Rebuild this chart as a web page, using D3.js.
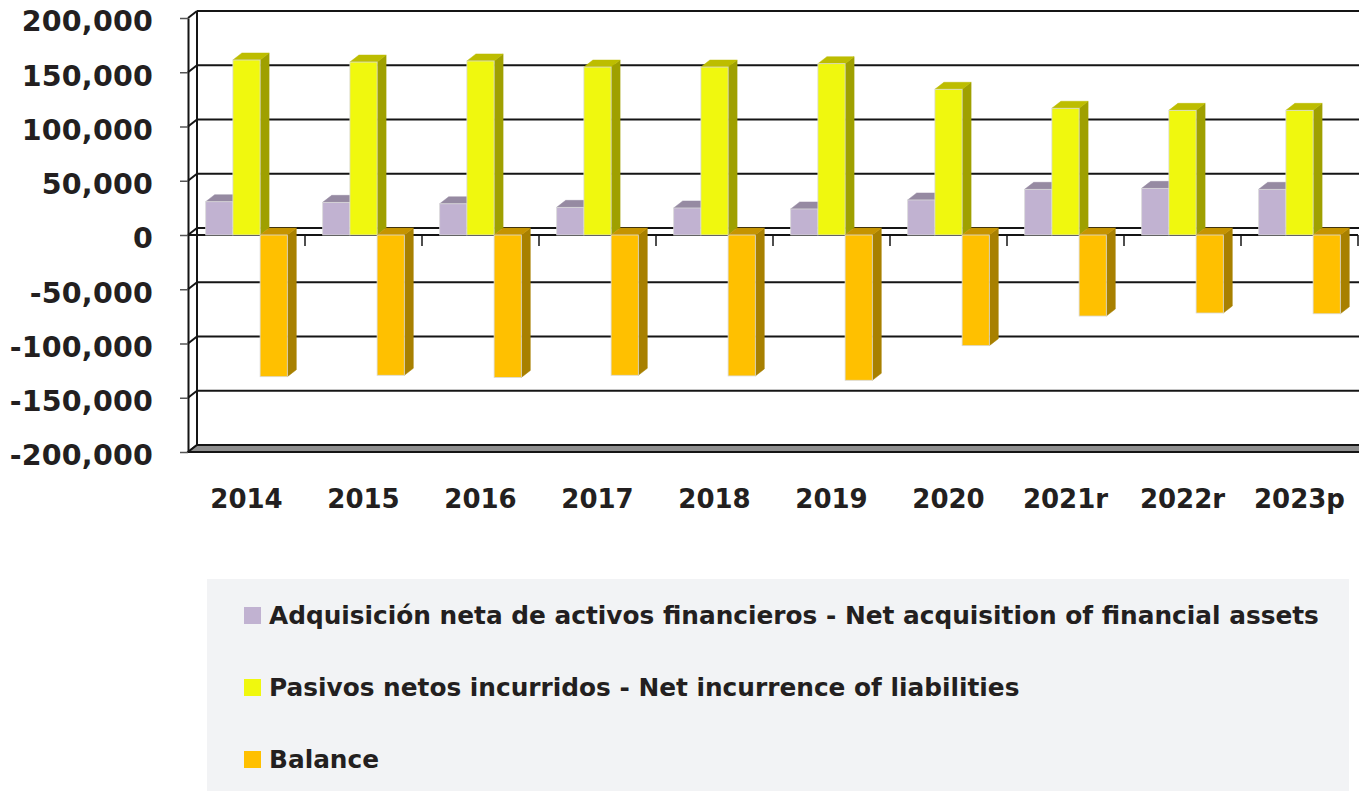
<!DOCTYPE html>
<html><head><meta charset="utf-8">
<script src="https://cdn.jsdelivr.net/npm/d3@7"></script>
<style>
html,body{margin:0;padding:0;background:#fff;}
svg{display:block;}
text{font-family:"DejaVu Sans",sans-serif;font-weight:bold;fill:#231f20;}
</style></head>
<body>
<svg id="chart" width="1359" height="791"></svg>
<script>
const categories = ["2014","2015","2016","2017","2018","2019","2020","2021r","2022r","2023p"];
const seriesNames = [
  "Adquisición neta de activos financieros - Net acquisition of financial assets",
  "Pasivos netos incurridos - Net incurrence of liabilities",
  "Balance"
];
const assets      = [30700, 30100, 28800, 25500, 24900, 24000, 32300, 42100, 43000, 42100];
const liabilities = [161300, 159400, 160400, 154800, 154800, 157900, 134300, 116800, 114900, 114900];
const balance     = [-130600, -129300, -131300, -129300, -129900, -133900, -102000, -74700, -71900, -72600];
const yTicks = [-200000, -150000, -100000, -50000, 0, 50000, 100000, 150000, 200000];

const seriesValues = [assets, liabilities, balance];
const colors = [
  {front:"#c1b2d1", top:"#968aa2", side:"#85788f"},
  {front:"#f0f80e", top:"#bdbd00", side:"#9fa000"},
  {front:"#ffc000", top:"#c69400", side:"#a88000"}
];

const svg = d3.select("#chart");
const left = 188, right = 1358, dx = 9, dy = 7;
const x = d3.scaleBand().domain(categories).range([left, right]).paddingInner(0).paddingOuter(0);
const xs = d3.scaleBand().domain(d3.range(3)).range([0, x.bandwidth()]).paddingInner(0).paddingOuter(0.65);
const y = d3.scaleLinear().domain([-200000, 200000]).range([452, 18]);
const lineCol = "#151515";
const fmt = d3.formatLocale({decimal: ".", thousands: ",", grouping: [3], currency: ["", ""], minus: "-"}).format(",");

// back wall gridlines
svg.append("g").selectAll("line").data(yTicks).join("line")
  .attr("x1", left + dx).attr("x2", 1400)
  .attr("y1", d => y(d) - dy).attr("y2", d => y(d) - dy)
  .attr("stroke", lineCol).attr("stroke-width", 2);
// side wall diagonals
svg.append("g").selectAll("line").data(yTicks).join("line")
  .attr("x1", left).attr("x2", left + dx)
  .attr("y1", d => y(d)).attr("y2", d => y(d) - dy)
  .attr("stroke", lineCol).attr("stroke-width", 2);
// back wall left edge
svg.append("line").attr("x1", left + dx).attr("x2", left + dx)
  .attr("y1", y(200000) - dy).attr("y2", y(-200000) - dy)
  .attr("stroke", lineCol).attr("stroke-width", 2);

// floor
const y0f = y(-200000);
svg.append("path")
  .attr("d", `M${left},${y0f} L${left+dx},${y0f-dy} L1400,${y0f-dy} L1400,${y0f} Z`)
  .attr("fill", "#8f8f8f").attr("stroke", lineCol).attr("stroke-width", 1.8);

// front zero line (category axis) with ticks
const z = y(0);
svg.append("line").attr("x1", left).attr("x2", right).attr("y1", z).attr("y2", z)
  .attr("stroke", lineCol).attr("stroke-width", 2);
svg.append("g").selectAll("line").data(categories).join("line")
  .attr("x1", (d,i) => left + (i+1) * x.step()).attr("x2", (d,i) => left + (i+1) * x.step())
  .attr("y1", z).attr("y2", z + 11)
  .attr("stroke", lineCol).attr("stroke-width", 1.5);

// bars
const bars = svg.append("g");
categories.forEach((c, ci) => {
  seriesValues.forEach((vals, si) => {
    const v = vals[ci];
    const x0 = x(c) + xs(si), x1 = x0 + xs.bandwidth();
    const yt = Math.min(y(v), z), yb = Math.max(y(v), z);
    const col = colors[si];
    bars.append("path")
      .attr("d", `M${x1},${yt} L${x1+dx},${yt-dy} L${x1+dx},${yb-dy} L${x1},${yb} Z`)
      .attr("fill", col.side).attr("stroke", col.side).attr("stroke-width", 0.5);
    bars.append("path")
      .attr("d", `M${x0},${yt} L${x1},${yt} L${x1+dx},${yt-dy} L${x0+dx},${yt-dy} Z`)
      .attr("fill", col.top).attr("stroke", col.top).attr("stroke-width", 0.5);
    bars.append("rect")
      .attr("x", x0).attr("y", yt).attr("width", x1 - x0).attr("height", yb - yt)
      .attr("fill", col.front).attr("stroke", "#d9d9d9").attr("stroke-width", 0.8);
  });
});

// y axis (front)
const yAxis = d3.axisLeft(y).tickValues(yTicks).tickSize(8).tickSizeOuter(0).tickPadding(27)
  .tickFormat(fmt);
const ya = svg.append("g").attr("transform", `translate(${left},0)`).call(yAxis);
ya.select(".domain").attr("stroke", lineCol).attr("stroke-width", 2);
ya.selectAll(".tick line").attr("stroke", "#555").attr("stroke-width", 1.5);
ya.selectAll(".tick text")
  .attr("font-family", "DejaVu Sans").attr("font-weight", "bold")
  .attr("font-size", 28.5).attr("letter-spacing", 0.2).attr("fill", "#231f20")
  .attr("dy", "0.45em");

// x labels
svg.append("g").selectAll("text").data(categories).join("text")
  .attr("x", d => x(d) + x.bandwidth() / 2).attr("y", 508)
  .attr("text-anchor", "middle").attr("font-size", 26).text(d => d);

// legend
svg.append("rect").attr("x", 207).attr("y", 579).attr("width", 1142).attr("height", 212).attr("fill", "#f2f3f5");
const lg = svg.append("g").selectAll("g").data(seriesNames).join("g")
  .attr("transform", (d,i) => `translate(244,${624 + i * 72})`);
lg.append("rect").attr("x", 0).attr("y", -17).attr("width", 17).attr("height", 17)
  .attr("fill", (d,i) => colors[i].front);
lg.append("text").attr("x", 25).attr("y", 0).attr("font-size", 24.8).text(d => d);
</script>
</body></html>
